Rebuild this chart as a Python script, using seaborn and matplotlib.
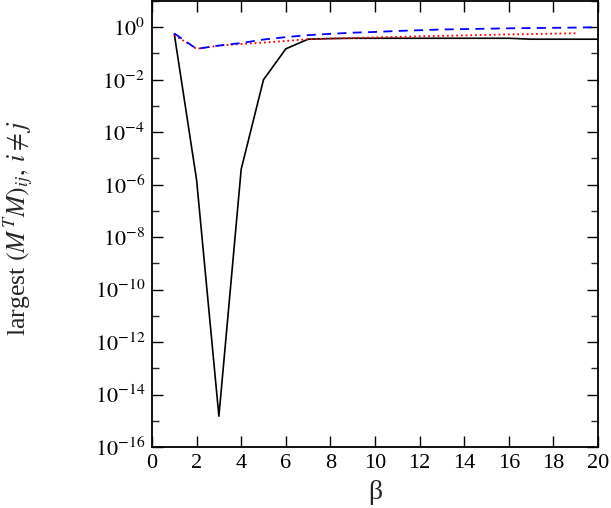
import matplotlib

matplotlib.use("Agg")
import matplotlib.pyplot as plt
import matplotlib.ticker as mticker
import numpy as np
import pandas as pd
import seaborn as sns

# values
beta = list(range(1, 21))
black_vals = [0.55, 1.5e-6, 1.5e-15, 3.9e-6, 1.0e-2, 0.15, 0.35, 0.37, 0.38, 0.38,
              0.38, 0.38, 0.38, 0.38, 0.38, 0.38, 0.35, 0.35, 0.35, 0.35]
blue_vals = [0.58, 0.15, 0.20, 0.25, 0.34, 0.42, 0.50, 0.56, 0.62, 0.66,
             0.72, 0.77, 0.82, 0.85, 0.88, 0.91, 0.93, 0.95, 0.97, 1.0]
beta_red = list(range(1, 20))
red_vals = [0.50, 0.15, 0.20, 0.23, 0.26, 0.30, 0.35, 0.37, 0.39, 0.41,
            0.43, 0.45, 0.47, 0.49, 0.51, 0.53, 0.55, 0.57, 0.59]

sns.set_theme(style="ticks")
plt.rcParams["font.family"] = ["Liberation Serif", "DejaVu Serif"]
plt.rcParams["mathtext.fontset"] = "stix"
plt.rcParams["font.size"] = 16

black_df = pd.DataFrame({"beta": beta, "val": black_vals})
blue_df = pd.DataFrame({"beta": beta, "val": blue_vals})
red_df = pd.DataFrame({"beta": beta_red, "val": red_vals})

fig = plt.figure(figsize=(6.11, 5.08), dpi=100)
ax = fig.add_axes([152 / 611, 61 / 508, 446 / 611, 446 / 508])

sns.lineplot(data=black_df, x="beta", y="val", ax=ax, color="black", lw=1.2)
sns.lineplot(data=red_df, x="beta", y="val", ax=ax, color="red", lw=1.3,
             linestyle=(0, (1, 1.6)))
sns.lineplot(data=blue_df, x="beta", y="val", ax=ax, color="blue", lw=1.3,
             linestyle=(0, (5, 3.5)))

ax.set_yscale("log")
ax.set_xlim(0, 20)
ax.set_ylim(1e-16, 10)
ax.set_xticks(np.arange(0, 21, 2))
ax.yaxis.set_major_locator(mticker.FixedLocator([10.0 ** k for k in range(-16, 1, 2)]))
ax.yaxis.set_minor_locator(mticker.FixedLocator([10.0 ** k for k in range(-15, 2, 2)]))
ax.yaxis.set_minor_formatter(mticker.NullFormatter())
ax.yaxis.set_major_formatter(
    mticker.FuncFormatter(lambda v, p: r"$10^{%d}$" % round(np.log10(v))))

ax.tick_params(direction="in", top=True, right=True, length=8, width=1.0,
               labelsize=16, pad=5, colors="black")
ax.tick_params(which="minor", direction="in", right=True, length=5, width=1.0)
for sp in ax.spines.values():
    sp.set_linewidth(1.3)
    sp.set_color("black")

ax.set_xlabel("β", fontsize=20, labelpad=5)
ax.set_ylabel(r"largest $(M^T M)_{ij},\, i \neq j$", fontsize=18.5)
ax.yaxis.set_label_coords(-0.262, 0.49)

fig.savefig("out.png", dpi=100)
